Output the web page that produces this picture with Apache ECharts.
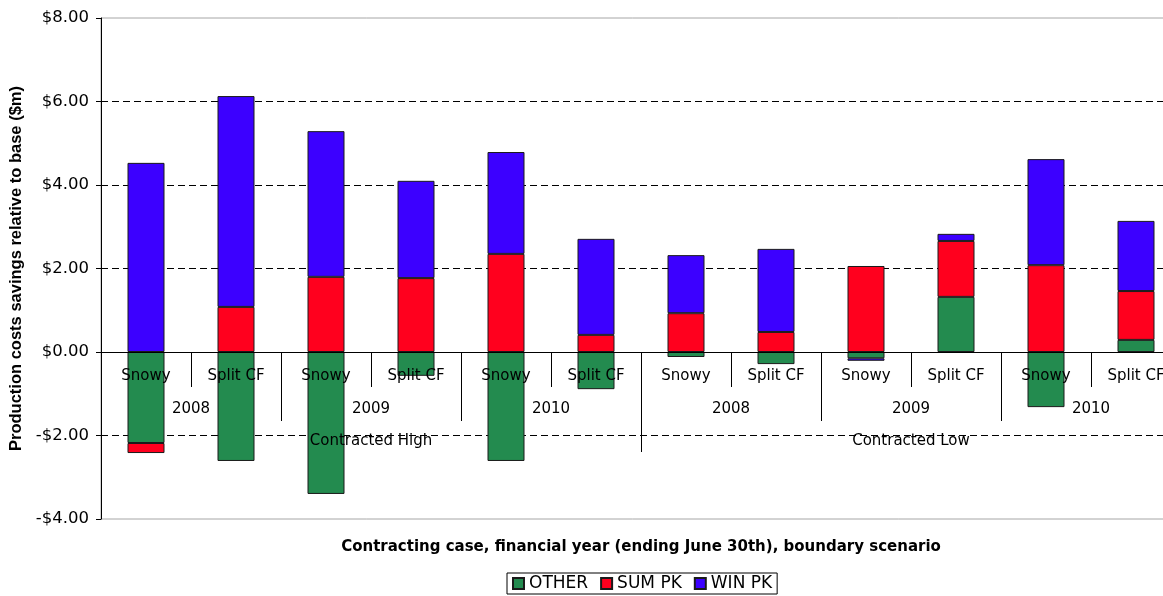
<!DOCTYPE html>
<html>
<head>
<meta charset="utf-8">
<title>Production costs savings</title>
<script src="https://cdn.jsdelivr.net/npm/echarts@6/dist/echarts.min.js"></script>
<style>
  html, body { margin: 0; padding: 0; background: #fff; }
  #chart { width: 1163px; height: 596px; }
</style>
</head>
<body>
<div id="chart"></div>
<script>
// 数据
const scenarios = ['Snowy', 'Split CF', 'Snowy', 'Split CF', 'Snowy', 'Split CF',
  'Snowy', 'Split CF', 'Snowy', 'Split CF', 'Snowy', 'Split CF']
const years = ['2008', '2009', '2010', '2008', '2009', '2010']
const cases = ['Contracted High', 'Contracted Low']
const otherValues = [-2.18, -2.61, -3.40, -0.57, -2.61, -0.89, -0.12, -0.29, -0.15, 1.32, -1.32, 0.29]
const sumPkValues = [-0.24, 1.08, 1.80, 1.77, 2.35, 0.41, 0.93, 0.48, 2.06, 1.34, 2.08, 1.17]
const winPkValues = [4.53, 5.05, 3.49, 2.33, 2.44, 2.30, 1.39, 1.99, -0.06, 0.17, 2.54, 1.68]
const yTicks = { min: -4, max: 8, interval: 2 }

const labelFont = 'DejaVu Sans'
// 网格高度 501px，零线在 -4 之上 4 格 => 向上偏移 167px
const zeroOffset = -167

const chartInstance = echarts.init(document.getElementById('chart'))

// 金额格式
function money (v) {
  return (v < 0 ? '-$' : '$') + Math.abs(v).toFixed(2)
}

function barSeries (name, data, color) {
  return {
    name: name,
    type: 'bar',
    stack: 'total',
    barWidth: 37,
    data: data,
    itemStyle: {
      color: color,
      borderColor: '#1a1a1a',
      borderWidth: 1
    }
  }
}

// 分组的x轴（年份 / 合约情况）
function groupAxis (data, tickLen, margin) {
  return {
    type: 'category',
    position: 'bottom',
    offset: zeroOffset,
    data: data,
    z: 5,
    axisLine: { show: false, onZero: false },
    axisTick: { show: true, length: tickLen, interval: 0, lineStyle: { color: '#000' } },
    axisLabel: { interval: 0, margin: margin, color: '#000', fontSize: 15, fontFamily: labelFont },
    splitLine: { show: false }
  }
}

const option = {
  animation: false,
  grid: {
    left: 101,
    right: -18,
    top: 18,
    bottom: 77,
    outerBoundsMode: 'none',
    containLabel: false,
    show: true,
    borderColor: '#a6a6a6',
    borderWidth: 1
  },
  legend: {
    data: ['OTHER', 'SUM PK', 'WIN PK'],
    left: 507,
    top: 573,
    itemWidth: 11,
    itemHeight: 11,
    itemGap: 12,
    padding: [2, 5, 2, 5],
    borderColor: '#000',
    borderWidth: 1,
    icon: 'rect',
    textStyle: { color: '#000', fontSize: 17, fontFamily: labelFont }
  },
  xAxis: [
    {
      type: 'category',
      position: 'bottom',
      offset: zeroOffset,
      data: scenarios,
      z: 5,
      name: 'Contracting case, financial year (ending June 30th), boundary scenario',
      nameLocation: 'middle',
      nameGap: 188,
      nameTextStyle: { color: '#000', fontSize: 15, fontWeight: 'bold', fontFamily: labelFont },
      axisLine: { onZero: false, lineStyle: { color: '#000', width: 1 } },
      axisTick: { show: true, length: 35, interval: 0, lineStyle: { color: '#000' } },
      axisLabel: { interval: 0, margin: 17, color: '#000', fontSize: 15, fontFamily: labelFont },
      splitLine: { show: false }
    },
    groupAxis(years, 69, 50),
    groupAxis(cases, 100, 82)
  ],
  yAxis: {
    type: 'value',
    min: yTicks.min,
    max: yTicks.max,
    interval: yTicks.interval,
    name: 'Production costs savings relative to base ($m)',
    nameLocation: 'middle',
    nameGap: 74,
    nameTextStyle: { color: '#000', fontSize: 16.5, fontWeight: 'bold', fontFamily: 'Liberation Sans' },
    axisLine: { show: true, lineStyle: { color: '#000', width: 1 } },
    axisTick: { show: true, length: 5, lineStyle: { color: '#000' } },
    axisLabel: {
      margin: 12,
      color: '#000',
      fontSize: 16.5,
      fontFamily: labelFont,
      formatter: money
    },
    splitLine: {
      show: true,
      showMinLine: false,
      showMaxLine: false,
      lineStyle: { color: '#000', type: [7, 4], width: 1 }
    }
  },
  series: [
    barSeries('OTHER', otherValues, '#238b4f'),
    barSeries('SUM PK', sumPkValues, '#ff001e'),
    barSeries('WIN PK', winPkValues, '#3c00ff')
  ]
}

chartInstance.setOption(option)
</script>
</body>
</html>
